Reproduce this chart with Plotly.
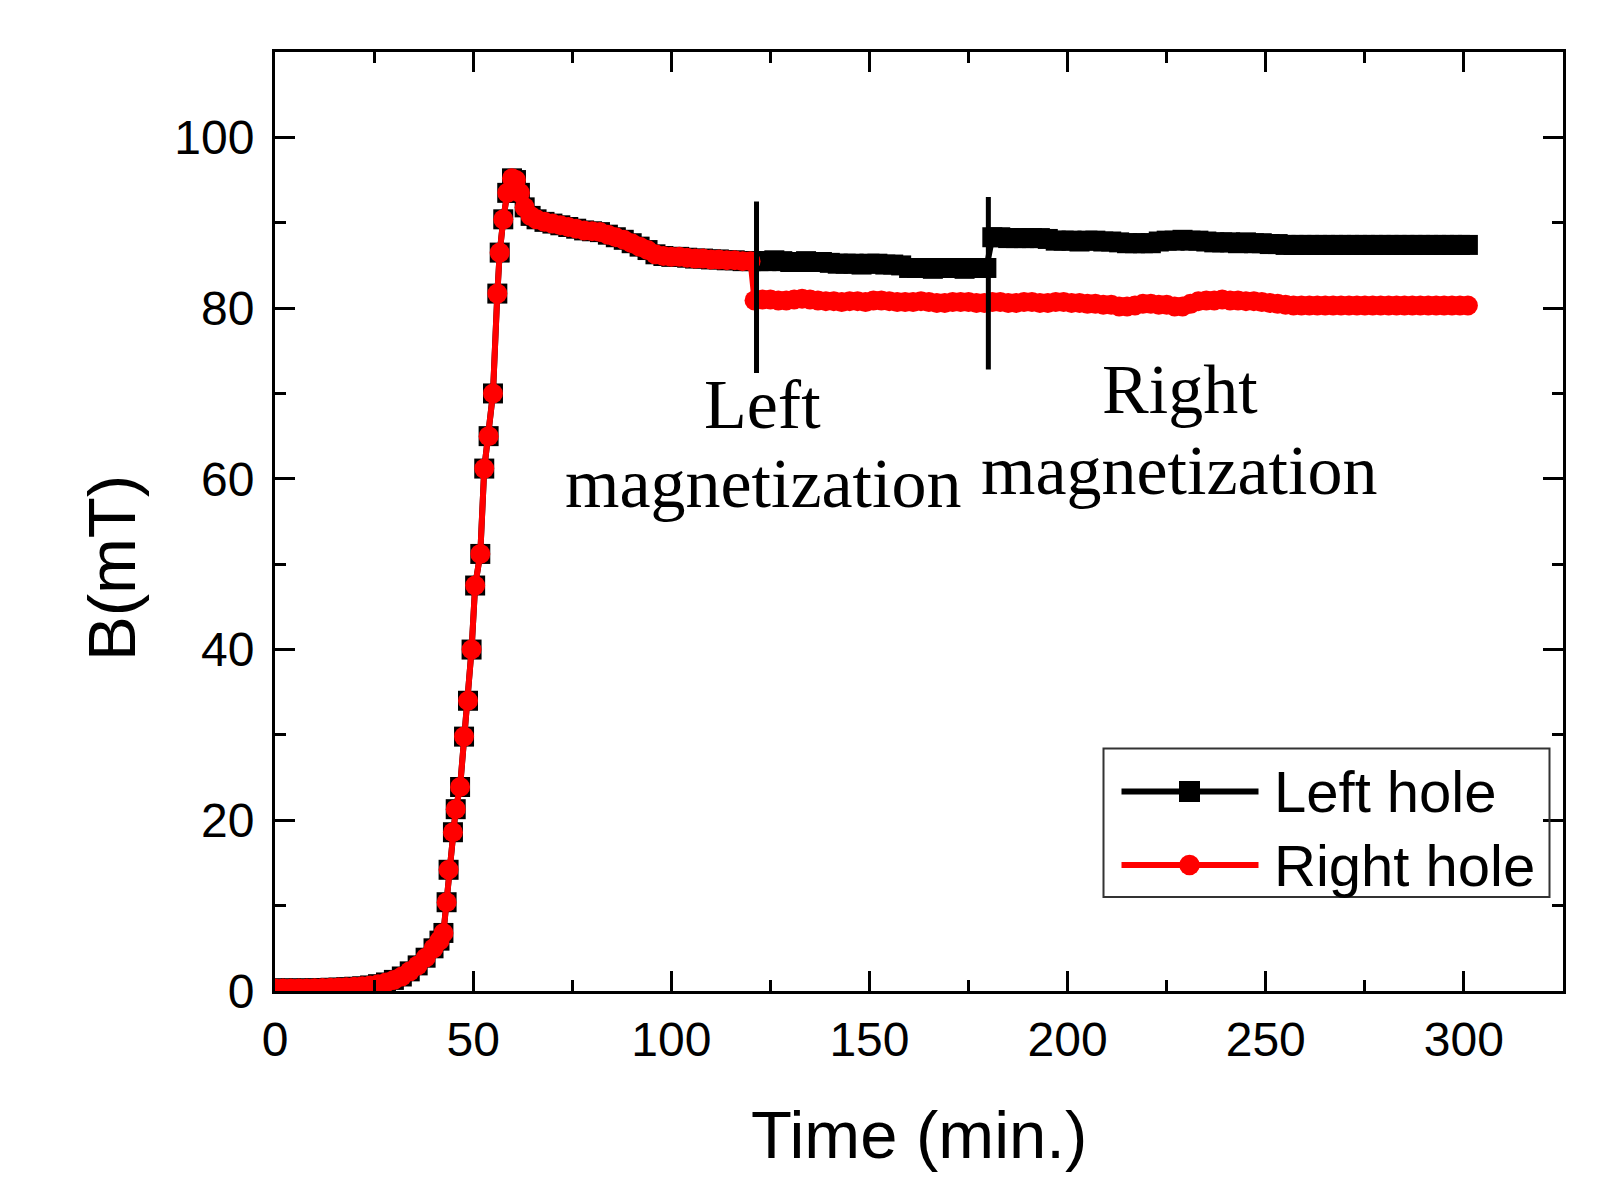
import plotly.graph_objects as go

# ---------------- data ----------------
# period before the magnetisations: both holes read the same
t_common = [0, 2, 4, 6, 8, 10, 12, 14, 16, 18, 20,
            22, 24, 26, 28, 30, 32, 34, 36, 38, 40,
            41.5, 42.5,
            43.3, 43.8, 44.9, 45.6, 46.7, 47.7, 48.7, 49.6, 50.5, 51.8,
            52.8, 53.9, 55.0, 56.1, 56.7, 57.6, 58.6, 59.8, 60.8, 61.8,
            63.0, 64.5,
            66, 68, 70, 72, 74, 76, 78, 80, 82, 84, 86, 88, 90, 92, 94, 96, 98,
            100, 102, 104, 106, 108, 110, 112, 114, 116, 118, 120]
b_common = [0.3, 0.3, 0.3, 0.3, 0.3, 0.32, 0.35, 0.38, 0.4, 0.45, 0.5,
            0.55, 0.65, 0.8, 1.0, 1.3, 1.7, 2.3, 3.0, 3.9, 5.0,
            5.9, 6.8,
            10.4, 14.2, 18.6, 21.3, 23.9, 29.8, 34.0, 40.0, 47.5, 51.2,
            61.2, 65.0, 70.0, 81.7, 86.5, 90.4, 93.5, 95.2, 95.0, 93.5,
            91.8, 90.8,
            90.4, 90.1, 89.9, 89.7, 89.5, 89.3, 89.1, 89.0, 88.9, 88.6, 88.3, 88.0, 87.6, 87.2, 86.8, 86.3, 86.1,
            86.0, 86.0, 85.9, 85.8, 85.8, 85.7, 85.7, 85.6, 85.6, 85.5, 85.5]

# Left hole after the left magnetisation
t_left_after = [122, 124, 126, 128, 130, 132, 134, 136, 138, 140,
                142, 144, 146, 148, 150, 152, 154, 156, 158,
                160, 162, 164, 166, 168, 170, 172, 174, 176, 178,
                179.5,
                181, 183, 185, 187, 189, 191, 193, 195,
                197, 199, 201, 203, 205, 207, 209, 211, 213, 215, 217,
                219, 221, 223, 225,
                227, 229, 231, 233, 235,
                237, 239, 241, 243, 245, 247, 249, 251, 253,
                255, 257, 259, 261, 263, 265, 267, 269, 271, 273, 275, 277,
                279, 281, 283, 285, 287, 289, 291, 293, 295, 297, 299, 301]
b_left_after = [85.5, 85.5, 85.6, 85.5, 85.4, 85.4, 85.5, 85.4, 85.4, 85.3,
                85.2, 85.2, 85.2, 85.1, 85.2, 85.2, 85.1, 85.1, 85.0,
                84.7, 84.7, 84.7, 84.6, 84.7, 84.7, 84.7, 84.6, 84.7, 84.7,
                84.7,
                88.3, 88.3, 88.2, 88.2, 88.2, 88.2, 88.2, 88.1,
                87.9, 87.9, 87.9, 87.8, 87.9, 87.9, 87.8, 87.8, 87.7, 87.6, 87.6,
                87.6, 87.6, 87.8, 87.9,
                87.9, 88.0, 87.9, 87.9, 87.8,
                87.7, 87.7, 87.7, 87.6, 87.7, 87.6, 87.6, 87.5, 87.5,
                87.4, 87.4, 87.4, 87.4, 87.4, 87.4, 87.4, 87.4, 87.4, 87.4, 87.4, 87.4,
                87.4, 87.4, 87.4, 87.4, 87.4, 87.4, 87.4, 87.4, 87.4, 87.4, 87.4, 87.4]

# Right hole after the left magnetisation
t_right_after = [121, 123, 125, 127, 129, 131, 133, 135, 137, 139,
                 141, 143, 145, 147, 149, 151, 153, 155, 157, 159,
                 161, 163, 165, 167, 169, 171, 173, 175, 177, 179,
                 181, 183, 185, 187, 189, 191, 193, 195, 197, 199, 201, 203, 205, 207, 209, 211,
                 213, 215, 217,
                 219, 221, 223, 225,
                 227, 229, 231,
                 233, 235, 237, 239, 241, 243, 245, 247, 249, 251, 253,
                 255, 257, 259, 261, 263, 265, 267, 269, 271, 273, 275, 277,
                 279, 281, 283, 285, 287, 289, 291, 293, 295, 297, 299, 301]
b_right_after = [80.9, 81.0, 81.0, 80.9, 80.9, 81.0, 81.1, 81.0, 80.9, 80.8,
                 80.8, 80.7, 80.8, 80.8, 80.7, 80.9, 80.9, 80.8, 80.7, 80.7,
                 80.7, 80.8, 80.7, 80.6, 80.6, 80.7, 80.7, 80.7, 80.6, 80.6,
                 80.7, 80.7, 80.6, 80.6, 80.7, 80.7, 80.6, 80.6, 80.7, 80.7, 80.6, 80.6, 80.5, 80.5, 80.4, 80.4,
                 80.2, 80.2, 80.3,
                 80.5, 80.5, 80.4, 80.4,
                 80.2, 80.2, 80.5,
                 80.8, 80.9, 80.9, 81.0, 80.9, 80.9, 80.8, 80.8, 80.7, 80.6, 80.5,
                 80.4, 80.3, 80.3, 80.3, 80.3, 80.3, 80.3, 80.3, 80.3, 80.3, 80.3, 80.3,
                 80.3, 80.3, 80.3, 80.3, 80.3, 80.3, 80.3, 80.3, 80.3, 80.3, 80.3, 80.3]

series_names = ["Left hole", "Right hole"]
event_times = [121.5, 180]          # left / right magnetisation
event_low = [72.4, 72.8]
event_high = [92.5, 93.0]
event_labels = [["Left", "magnetization"], ["Right", "magnetization"]]

x_ticks = [0, 50, 100, 150, 200, 250, 300]
y_ticks = [0, 20, 40, 60, 80, 100]

# ---------------- layout geometry ----------------
W, H = 1598, 1181
ML, MR, MT, MB = 275, 35, 52, 190
PW, PH = W - ML - MR, H - MT - MB


def px(x):
    return (x - ML) / PW


def py(y):
    return (H - MB - y) / PH


SANS = "Liberation Sans, Arial, sans-serif"
SERIF = "Liberation Serif, Times New Roman, serif"

fig = go.Figure()
fig.add_trace(go.Scatter(
    x=t_common + t_left_after, y=b_common + b_left_after,
    mode="lines+markers", name=series_names[0], showlegend=False,
    line=dict(color="#000000", width=6),
    marker=dict(symbol="square", size=20, color="#000000", line=dict(width=0)),
))
fig.add_trace(go.Scatter(
    x=t_common + t_right_after, y=b_common + b_right_after,
    mode="lines+markers", name=series_names[1], showlegend=False,
    line=dict(color="#ff0000", width=6),
    marker=dict(symbol="circle", size=20, color="#ff0000", line=dict(width=0)),
))

shapes = []
for t, lo, hi in zip(event_times, event_low, event_high):
    shapes.append(dict(type="line", xref="x", yref="y", x0=t, x1=t, y0=lo, y1=hi,
                       line=dict(color="#000000", width=5)))

# legend (drawn by hand to match the long sample lines)
shapes.append(dict(type="rect", xref="paper", yref="paper",
                   x0=px(1103.5), x1=px(1549.5), y0=py(897), y1=py(748.5),
                   line=dict(color="#333333", width=2), fillcolor="rgba(0,0,0,0)"))
leg_y = [791.5, 865]
leg_col = ["#000000", "#ff0000"]
for yy, col in zip(leg_y, leg_col):
    shapes.append(dict(type="line", xref="paper", yref="paper",
                       x0=px(1121.5), x1=px(1258.5), y0=py(yy), y1=py(yy),
                       line=dict(color=col, width=6)))
shapes.append(dict(type="rect", xref="paper", yref="paper",
                   x0=px(1179), x1=px(1200), y0=py(leg_y[0] + 10.5), y1=py(leg_y[0] - 10.5),
                   line=dict(width=0), fillcolor="#000000"))
shapes.append(dict(type="circle", xref="paper", yref="paper",
                   x0=px(1179.25), x1=px(1199.75), y0=py(leg_y[1] + 10.25), y1=py(leg_y[1] - 10.25),
                   line=dict(width=0), fillcolor="#ff0000"))

annotations = []
for name, yy in zip(series_names, leg_y):
    annotations.append(dict(text=name, xref="paper", yref="paper", x=px(1272), y=py(yy),
                            xanchor="left", yanchor="middle", showarrow=False,
                            font=dict(family=SANS, size=58, color="#000000")))

# event labels
lab_pos = [((762, 404.4), (763, 483.9)), ((1180, 389.4), (1179.5, 470.4))]
for lines, pos in zip(event_labels, lab_pos):
    for txt, (xx, yy) in zip(lines, pos):
        annotations.append(dict(text=txt, xref="paper", yref="paper", x=px(xx), y=py(yy),
                                xanchor="center", yanchor="middle", showarrow=False,
                                font=dict(family=SERIF, size=70, color="#000000")))

# axis titles
annotations.append(dict(text="Time (min.)", xref="paper", yref="paper", x=0.5, y=py(1134),
                        xanchor="center", yanchor="middle", showarrow=False,
                        font=dict(family=SANS, size=67, color="#000000")))
annotations.append(dict(text="B(mT)", xref="paper", yref="paper", x=px(111), y=py(568),
                        xanchor="center", yanchor="middle", showarrow=False, textangle=-90,
                        font=dict(family=SANS, size=67, color="#000000")))

axis_common = dict(
    showgrid=False, zeroline=False, showline=True, linewidth=3, linecolor="#000000",
    mirror="allticks", ticks="inside", ticklen=20, tickwidth=3, tickcolor="#000000",
    tickfont=dict(family=SANS, size=48, color="#000000"),
)
fig.update_layout(
    width=W, height=H,
    margin=dict(l=ML, r=MR, t=MT, b=MB, pad=0),
    paper_bgcolor="#ffffff", plot_bgcolor="#ffffff",
    shapes=shapes, annotations=annotations, showlegend=False,
    xaxis=dict(range=[0, 325], tickmode="array", tickvals=x_ticks,
               ticktext=[str(v) for v in x_ticks], ticklabelstandoff=4,
               minor=dict(dtick=25, tick0=0, ticks="inside", ticklen=11, tickwidth=3,
                          tickcolor="#000000", showgrid=False),
               **axis_common),
    yaxis=dict(range=[0, 110], tickmode="array", tickvals=y_ticks,
               ticktext=[str(v) for v in y_ticks], ticklabelstandoff=8,
               minor=dict(dtick=10, tick0=0, ticks="inside", ticklen=11, tickwidth=3,
                          tickcolor="#000000", showgrid=False),
               **axis_common),
)

fig.write_html("out.html", config={"displayModeBar": False},
               post_script="document.body.style.margin='0';document.body.style.overflow='hidden';")
